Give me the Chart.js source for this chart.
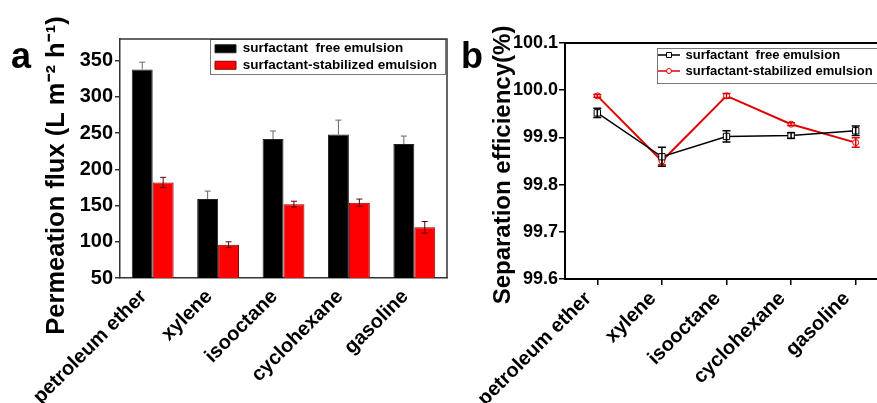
<!DOCTYPE html>
<html><head><meta charset="utf-8">
<script src="https://cdn.jsdelivr.net/npm/chart.js@4.4.0/dist/chart.umd.min.js"></script>
<style>
html,body{margin:0;padding:0;background:#fff;width:877px;height:403px;overflow:hidden;position:relative;font-family:"Liberation Sans",Arial,sans-serif}
#c1{position:absolute;left:0;top:0}
#c2{position:absolute;left:440px;top:0}
.lbl{position:absolute;font-weight:bold;font-size:36px;line-height:36px;font-family:"Liberation Sans",Arial,sans-serif;color:#000}
</style></head><body>
<canvas id="c1" width="455" height="403"></canvas>
<canvas id="c2" width="460" height="403"></canvas>
<div class="lbl" style="left:11px;top:38px">a</div>
<div class="lbl" style="left:461px;top:38px">b</div>
<script>
const categories = ['petroleum ether', 'xylene', 'isooctane', 'cyclohexane', 'gasoline'];
const seriesNames = ['surfactant  free emulsion', 'surfactant-stabilized emulsion'];
const fluxFree = [338, 159, 242, 248, 235];
const fluxFreeErr = [10, 11, 11, 20, 11];
const fluxStab = [182, 96, 152, 154, 120];
const fluxStabErr = [7, 4, 4, 5, 8];
const effFree = [99.952, 99.859, 99.902, 99.904, 99.914];
const effFreeErr = [0.010, 0.020, 0.012, 0.006, 0.010];
const effStab = [99.988, 99.850, 99.988, 99.928, 99.889];
const effStabErr = [0.003, 0.008, 0.005, 0.003, 0.010];
const fluxTitle = 'Permeation flux (L m\u207B\u00B2 h\u207B\u00B9)';
const effTitle = 'Separation efficiency(%)';

const FONT = 'Liberation Sans';
Chart.defaults.font.family = FONT;
Chart.defaults.font.weight = 'bold';
Chart.defaults.color = '#000';

const errorBars = {
  id: 'errorBars',
  afterDatasetDraw(chart, args) {
    const ds = chart.data.datasets[args.index];
    if (!ds.errors) return;
    const ctx = chart.ctx, y = chart.scales.y;
    const cap = ds.errCap || 3;
    ctx.save();
    ctx.strokeStyle = ds.errColor;
    ctx.lineWidth = ds.errWidth || 1;
    args.meta.data.forEach((el, j) => {
      const v = ds.data[j], e = ds.errors[j], x = el.x;
      const yt = y.getPixelForValue(v + e), yb = y.getPixelForValue(v - e), yc = y.getPixelForValue(v);
      ctx.beginPath();
      if (ds.errUpOnly) { ctx.moveTo(x, yc); ctx.lineTo(x, yt); }
      else { ctx.moveTo(x, yb); ctx.lineTo(x, yt); ctx.moveTo(x - cap, yb); ctx.lineTo(x + cap, yb); }
      ctx.moveTo(x - cap, yt); ctx.lineTo(x + cap, yt);
      ctx.stroke();
    });
    ctx.restore();
  }
};

const frameAndLegend = {
  id: 'frameAndLegend',
  afterLayout(chart, args, o) {
    const lg = chart.legend;
    if (lg) {
      lg.left = chart.chartArea.right - o.legendFromRight;
      lg.top = chart.chartArea.top + o.legendDy;
    }
    const s = chart.scales.y;
    if (s && !s._titlePatched) {
      const orig = s.drawTitle;
      s.drawTitle = function () {
        const c = this.ctx; c.save(); c.translate(0, o.titleDy); orig.call(this); c.restore();
      };
      s._titlePatched = true;
    }
  },
  afterDraw(chart, args, o) {
    const ctx = chart.ctx, a = chart.chartArea;
    ctx.save();
    ctx.strokeStyle = o.boxColor; ctx.lineWidth = 1;
    ctx.strokeRect(a.right - o.boxFromRight + 0.5, a.top + o.boxDy + 0.5, o.boxW, o.boxH);
    ctx.strokeStyle = o.frameColor; ctx.lineWidth = o.frameWidth;
    ctx.beginPath();
    ctx.moveTo(a.left, a.top); ctx.lineTo(a.right, a.top);
    if (o.right) ctx.lineTo(a.right, a.bottom);
    ctx.stroke();
    ctx.restore();
  }
};

function icon(color, style) {
  const c = document.createElement('canvas');
  c.width = 22; c.height = 8;
  const x = c.getContext('2d');
  x.strokeStyle = color; x.lineWidth = 1.5;
  x.beginPath(); x.moveTo(0, 4); x.lineTo(22, 4); x.stroke();
  x.fillStyle = '#fff'; x.lineWidth = 1;
  x.beginPath();
  if (style === 'rect') x.rect(8.5, 1.5, 5, 5); else x.arc(11, 4, 2.5, 0, Math.PI * 2);
  x.fill(); x.stroke();
  return c;
}

// ---------- chart a ----------
new Chart(document.getElementById('c1'), {
  type: 'bar',
  data: {
    labels: categories,
    datasets: [
      { label: seriesNames[0], data: fluxFree, errors: fluxFreeErr, errUpOnly: true, errColor: '#666', errCap: 3,
        backgroundColor: '#000', borderColor: '#222', borderWidth: 1 },
      { label: seriesNames[1], data: fluxStab, errors: fluxStabErr, errColor: '#5a0000', errCap: 3,
        backgroundColor: '#ff0000', borderColor: '#8a0000', borderWidth: 1 }
    ]
  },
  options: {
    responsive: false, animation: false, devicePixelRatio: 1,
    categoryPercentage: 0.64, barPercentage: 1.0,
    layout: { padding: { top: 39, right: 8, left: 0, bottom: 0 } },
    plugins: {
      tooltip: { enabled: false },
      legend: {
        position: 'chartArea', align: 'start',
        labels: { boxWidth: 21, boxHeight: 8, padding: 3, color: '#000', font: { size: 13.5, weight: 'bold', family: FONT } }
      },
      frameAndLegend: { legendFromRight: 235, legendDy: 0, boxFromRight: 237, boxDy: 0, boxW: 235, boxH: 35,
        boxColor: '#777', frameColor: '#333', frameWidth: 1.5, right: true, titleDy: 17 }
    },
    scales: {
      x: {
        afterFit: s => { s.height = 125; },
        grid: { display: false, drawTicks: false },
        border: { display: true, color: '#333', width: 1.5 },
        ticks: { minRotation: 45, maxRotation: 45, padding: 7, labelOffset: -9, autoSkip: false, color: '#000', font: { size: 20, weight: 'bold', family: FONT } }
      },
      y: {
        min: 50, max: 380,
        afterFit: s => { s.width = 120; },
        grid: { drawOnChartArea: false, drawTicks: true, tickLength: 5, color: '#333', lineWidth: 1.5 },
        border: { display: true, color: '#333', width: 1.5 },
        ticks: { stepSize: 50, includeBounds: false, padding: 2, color: '#000', font: { size: 20, weight: 'bold', family: FONT } },
        title: { display: true, text: fluxTitle, color: '#000', padding: { top: 42, bottom: 0 }, font: { size: 25.5, weight: 'bold', family: FONT } }
      }
    }
  },
  plugins: [errorBars, frameAndLegend]
});

// ---------- chart b ----------
const icons = [icon('#000', 'rect'), icon('#e00000', 'circle')];
new Chart(document.getElementById('c2'), {
  type: 'line',
  data: {
    labels: categories,
    datasets: [
      { label: seriesNames[0], data: effFree, errors: effFreeErr, errColor: '#000', errWidth: 1.5, errCap: 4,
        borderColor: '#000', borderWidth: 1.5, pointStyle: 'rect', pointRadius: 4.5, pointBackgroundColor: '#fff',
        pointBorderColor: '#000', pointBorderWidth: 1, tension: 0 },
      { label: seriesNames[1], data: effStab, errors: effStabErr, errColor: '#e00000', errWidth: 1.5, errCap: 4,
        borderColor: '#e00000', borderWidth: 2, pointStyle: 'circle', pointRadius: 3, pointBackgroundColor: '#fff',
        pointBorderColor: '#e00000', pointBorderWidth: 1, tension: 0 }
    ]
  },
  options: {
    responsive: false, animation: false, devicePixelRatio: 1,
    layout: { padding: { top: 43, right: 12, left: 0, bottom: 0 } },
    plugins: {
      tooltip: { enabled: false },
      legend: {
        position: 'chartArea', align: 'start',
        labels: {
          usePointStyle: true, pointStyleWidth: 20, boxHeight: 8, padding: 3, color: '#000',
          font: { size: 13, weight: 'bold', family: FONT },
          generateLabels: chart => chart.data.datasets.map((ds, i) => ({
            text: ds.label, pointStyle: icons[i], fillStyle: 'transparent', strokeStyle: 'transparent',
            lineWidth: 0, hidden: false, datasetIndex: i, fontColor: '#000'
          }))
        }
      },
      frameAndLegend: { legendFromRight: 232, legendDy: 2.5, boxFromRight: 231, boxDy: 5, boxW: 260, boxH: 35,
        boxColor: '#777', frameColor: '#000', frameWidth: 2, right: false, titleDy: 4 }
    },
    scales: {
      x: {
        offset: true,
        afterFit: s => { s.height = 124; },
        grid: { drawOnChartArea: false, drawTicks: true, tickLength: 6, color: '#000', lineWidth: 1.5, offset: false },
        border: { display: true, color: '#000', width: 2 },
        ticks: { minRotation: 45, maxRotation: 45, padding: 2, labelOffset: -9, autoSkip: false, color: '#000', font: { size: 20, weight: 'bold', family: FONT } }
      },
      y: {
        min: 99.6, max: 100.1,
        afterFit: s => { s.width = 125; },
        grid: { drawOnChartArea: false, drawTicks: true, tickLength: 6, color: '#000', lineWidth: 1.5 },
        border: { display: true, color: '#000', width: 2 },
        ticks: { stepSize: 0.1, padding: 1, color: '#000', callback: v => Number(v).toFixed(1), font: { size: 18, weight: 'bold', family: FONT } },
        title: { display: true, text: effTitle, color: '#000', padding: { top: 49, bottom: 0 }, font: { size: 24, weight: 'bold', family: FONT } }
      }
    }
  },
  plugins: [errorBars, frameAndLegend]
});
</script>
</body></html>
